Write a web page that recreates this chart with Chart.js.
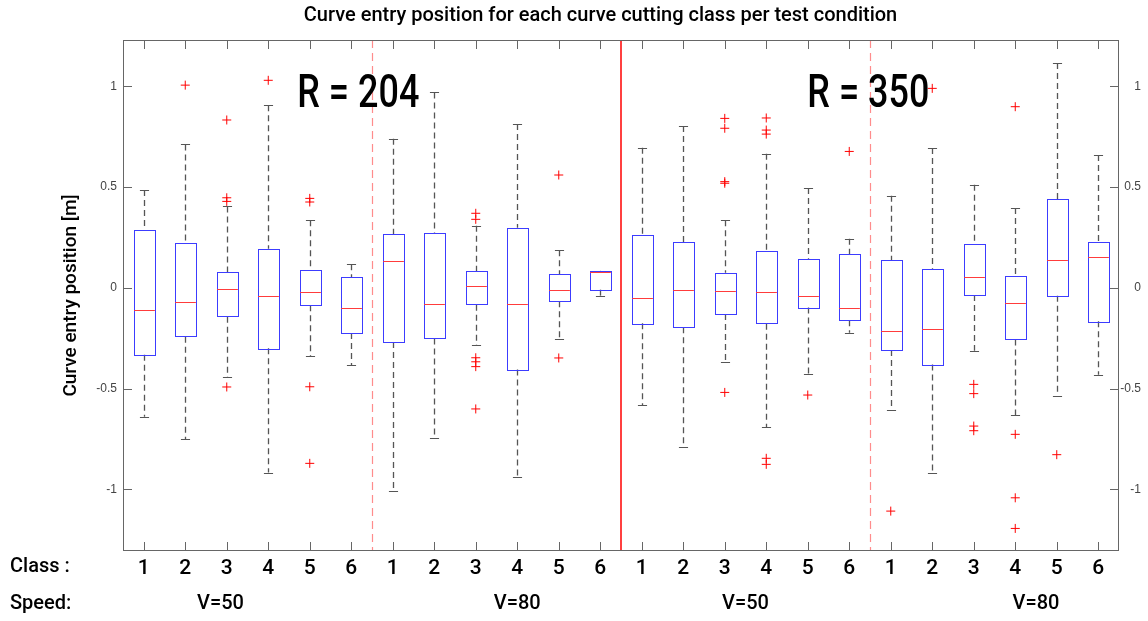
<!DOCTYPE html>
<html>
<head>
<meta charset="utf-8">
<script src="https://cdn.jsdelivr.net/npm/chart.js@4.4.0/dist/chart.umd.min.js"></script>
<style>
html, body { margin: 0; padding: 0; background: #fff; }
</style>
</head>
<body>
<canvas id="boxChart" width="1148" height="621"></canvas>
<script>
// class number printed under each box (radius 204 then 350, each V=50 then V=80)
var classLabels = ['1','2','3','4','5','6','1','2','3','4','5','6','1','2','3','4','5','6','1','2','3','4','5','6'];
var speedLabels = ['V=50', 'V=80', 'V=50', 'V=80'];
var speedPos = [2.85, 10, 15.5, 22.5];
var radiusLabels = ['R = 204', 'R = 350'];
var radiusPos = [6.17, 18.46];
var yTicks = [-1, -0.5, 0, 0.5, 1];
var groupLines = [6.5, 18.5];
var radiusLine = 12.5;

// box statistics per class [m]
var whiskerHigh = [0.485, 0.712, 0.404, 0.906, 0.336, 0.117, 0.740, 0.970, 0.308, 0.813, 0.186, 0.085,
                   0.695, 0.803, 0.335, 0.666, 0.495, 0.244, 0.457, 0.694, 0.512, 0.396, 1.116, 0.659];
var q3 = [0.288, 0.221, 0.077, 0.194, 0.088, 0.052, 0.265, 0.270, 0.082, 0.298, 0.067, 0.085,
          0.264, 0.226, 0.075, 0.181, 0.145, 0.168, 0.136, 0.095, 0.216, 0.057, 0.441, 0.229];
var median = [-0.110, -0.069, -0.008, -0.041, -0.019, -0.099, 0.131, -0.080, 0.009, -0.080, -0.011, 0.080,
              -0.052, -0.009, -0.016, -0.019, -0.039, -0.100, -0.214, -0.206, 0.054, -0.077, 0.136, 0.153];
var q1 = [-0.332, -0.243, -0.143, -0.300, -0.087, -0.224, -0.269, -0.252, -0.084, -0.405, -0.067, -0.009,
          -0.176, -0.196, -0.130, -0.178, -0.097, -0.161, -0.309, -0.380, -0.036, -0.256, -0.039, -0.166];
var whiskerLow = [-0.640, -0.752, -0.444, -0.917, -0.340, -0.385, -1.010, -0.747, -0.286, -0.939, -0.254, -0.039,
                  -0.582, -0.788, -0.367, -0.691, -0.429, -0.223, -0.606, -0.921, -0.312, -0.633, -0.535, -0.431];
var outliers = [
    [], [1.006], [0.833, 0.447, 0.429, -0.492], [1.030], [0.444, 0.426, -0.491, -0.871], [],
    [], [], [0.370, 0.340, -0.347, -0.367, -0.391, -0.601], [], [0.560, -0.348], [],
    [], [], [0.841, 0.792, 0.527, 0.519, -0.519], [0.843, 0.783, 0.763, -0.846, -0.876], [-0.532], [0.677],
    [-1.108], [0.990], [-0.479, -0.525, -0.686, -0.709], [0.899, -0.727, -1.042, -1.194], [-0.828], []
];

var outlierPoints = [];
outliers.forEach(function (list, i) {
    list.forEach(function (v) { outlierPoints.push({x: i + 1, y: v}); });
});

var FONT = 'Roboto, "DejaVu Sans", sans-serif';

function line(ctx, x1, y1, x2, y2) {
    ctx.beginPath();
    ctx.moveTo(x1, y1);
    ctx.lineTo(x2, y2);
    ctx.stroke();
}

var boxPlugin = {
    id: 'boxes',
    beforeDatasetsDraw: function (chart) {
        var ctx = chart.ctx, xs = chart.scales.x, ys = chart.scales.y, a = chart.chartArea;
        var half = (xs.getPixelForValue(1.25) - xs.getPixelForValue(1));
        var cap = (xs.getPixelForValue(1.11) - xs.getPixelForValue(1));
        ctx.save();

        // separators between speed groups and radii
        ctx.strokeStyle = '#ff8c8c';
        ctx.lineWidth = 1.2;
        ctx.setLineDash([8, 5]);
        groupLines.forEach(function (p) {
            var x = Math.round(xs.getPixelForValue(p)) + 0.5;
            line(ctx, x, a.top, x, a.bottom);
        });
        ctx.setLineDash([]);
        ctx.strokeStyle = '#ff0000';
        ctx.lineWidth = 1.5;
        var xr = xs.getPixelForValue(radiusLine);
        line(ctx, xr, a.top, xr, a.bottom);

        for (var i = 0; i < median.length; i++) {
            var x = Math.round(xs.getPixelForValue(i + 1)) + 0.5;
            var yHi = ys.getPixelForValue(whiskerHigh[i]);
            var yQ3 = ys.getPixelForValue(q3[i]);
            var yMed = ys.getPixelForValue(median[i]);
            var yQ1 = ys.getPixelForValue(q1[i]);
            var yLo = ys.getPixelForValue(whiskerLow[i]);

            // whiskers
            ctx.strokeStyle = '#555555';
            ctx.lineWidth = 1.3;
            ctx.setLineDash([6, 4]);
            line(ctx, x, yHi, x, yQ3);
            line(ctx, x, yQ1, x, yLo);
            ctx.setLineDash([]);
            ctx.lineWidth = 1;
            line(ctx, x - cap, Math.round(yHi) + 0.5, x + cap, Math.round(yHi) + 0.5);
            line(ctx, x - cap, Math.round(yLo) + 0.5, x + cap, Math.round(yLo) + 0.5);

            // box
            ctx.strokeStyle = '#3c3cff';
            ctx.strokeRect(Math.round(x - half) + 0.5, Math.round(yQ3) + 0.5,
                           Math.round(2 * half), Math.round(yQ1 - yQ3));

            // median
            ctx.strokeStyle = '#ff3c3c';
            line(ctx, x - half, Math.round(yMed) + 0.5, x + half, Math.round(yMed) + 0.5);
        }
        ctx.restore();
    },
    afterDraw: function (chart) {
        var ctx = chart.ctx, xs = chart.scales.x, ys = chart.scales.y, a = chart.chartArea;
        ctx.save();

        // axes frame with inward ticks
        ctx.strokeStyle = '#666666';
        ctx.lineWidth = 1;
        ctx.strokeRect(Math.round(a.left) + 0.5, Math.round(a.top) + 0.5,
                       Math.round(a.right - a.left) - 1, Math.round(a.bottom - a.top) - 1);
        var tl = 9;
        classLabels.forEach(function (c, i) {
            var x = Math.round(xs.getPixelForValue(i + 1)) + 0.5;
            line(ctx, x, a.top, x, a.top + tl);
            line(ctx, x, a.bottom, x, a.bottom - tl);
        });
        yTicks.forEach(function (v) {
            var y = Math.round(ys.getPixelForValue(v)) + 0.5;
            line(ctx, a.left, y, a.left + tl, y);
            line(ctx, a.right, y, a.right - tl, y);
        });

        // radius annotations
        ctx.fillStyle = '#000';
        ctx.font = '500 46px ' + FONT;
        ctx.textAlign = 'center';
        ctx.textBaseline = 'middle';
        radiusLabels.forEach(function (t, i) {
            ctx.fillText(t, xs.getPixelForValue(radiusPos[i]), ys.getPixelForValue(0.955), 122);
        });

        // row captions and speed groups
        ctx.font = '500 20px ' + FONT;
        ctx.textAlign = 'left';
        ctx.fillText('Class :', 10, 567);
        ctx.fillText('Speed:', 10, 604);
        ctx.textAlign = 'center';
        speedLabels.forEach(function (t, i) {
            ctx.fillText(t, xs.getPixelForValue(speedPos[i]), 604);
        });
        ctx.restore();
    }
};

var ctx = document.getElementById('boxChart').getContext('2d');
var chart = new Chart(ctx, {
    type: 'scatter',
    data: {
        datasets: [{
            label: 'outliers',
            data: outlierPoints,
            pointStyle: 'cross',
            radius: 4.5,
            hoverRadius: 4.5,
            borderColor: '#ff0000',
            backgroundColor: '#ff0000',
            borderWidth: 1
        }]
    },
    options: {
        responsive: false,
        animation: false,
        devicePixelRatio: 1,
        layout: {
            padding: {left: 60, right: 7, top: 0, bottom: 0}
        },
        plugins: {
            legend: {display: false},
            tooltip: {enabled: false},
            title: {
                display: true,
                text: 'Curve entry position for each curve cutting class per test condition',
                color: '#000',
                font: {family: FONT, size: 20, weight: '500'},
                padding: {top: 4, bottom: 12}
            }
        },
        scales: {
            x: {
                type: 'linear',
                position: 'bottom',
                min: 0.5,
                max: 24.5,
                afterBuildTicks: function (s) {
                    s.ticks = classLabels.map(function (c, i) { return {value: i + 1}; });
                },
                afterFit: function (s) { s.height = 70; },
                ticks: {
                    autoSkip: false,
                    maxRotation: 0,
                    padding: 5,
                    color: '#000',
                    font: {family: FONT, size: 21, weight: '500'},
                    callback: function (v) { return classLabels[v - 1]; }
                },
                grid: {drawOnChartArea: false, drawTicks: false},
                border: {display: false}
            },
            y: {
                position: 'left',
                min: -1.306,
                max: 1.23,
                afterBuildTicks: function (s) {
                    s.ticks = yTicks.map(function (v) { return {value: v}; });
                },
                afterFit: function (s) { s.width = 63; },
                ticks: {
                    padding: 6,
                    color: '#444',
                    font: {family: '"Liberation Sans", Arial, sans-serif', size: 12},
                    callback: function (v) { return String(v); }
                },
                title: {
                    display: true,
                    text: 'Curve entry position [m]',
                    color: '#000',
                    font: {family: FONT, size: 19, weight: '500'},
                    padding: 0
                },
                grid: {drawOnChartArea: false, drawTicks: false},
                border: {display: false}
            },
            y2: {
                position: 'right',
                min: -1.306,
                max: 1.23,
                afterBuildTicks: function (s) {
                    s.ticks = yTicks.map(function (v) { return {value: v}; });
                },
                afterFit: function (s) { s.width = 22; },
                ticks: {
                    crossAlign: 'far',
                    color: '#444',
                    font: {family: '"Liberation Sans", Arial, sans-serif', size: 12},
                    callback: function (v) { return String(v); }
                },
                grid: {drawOnChartArea: false, drawTicks: false},
                border: {display: false}
            }
        }
    },
    plugins: [boxPlugin]
});
</script>
</body>
</html>
